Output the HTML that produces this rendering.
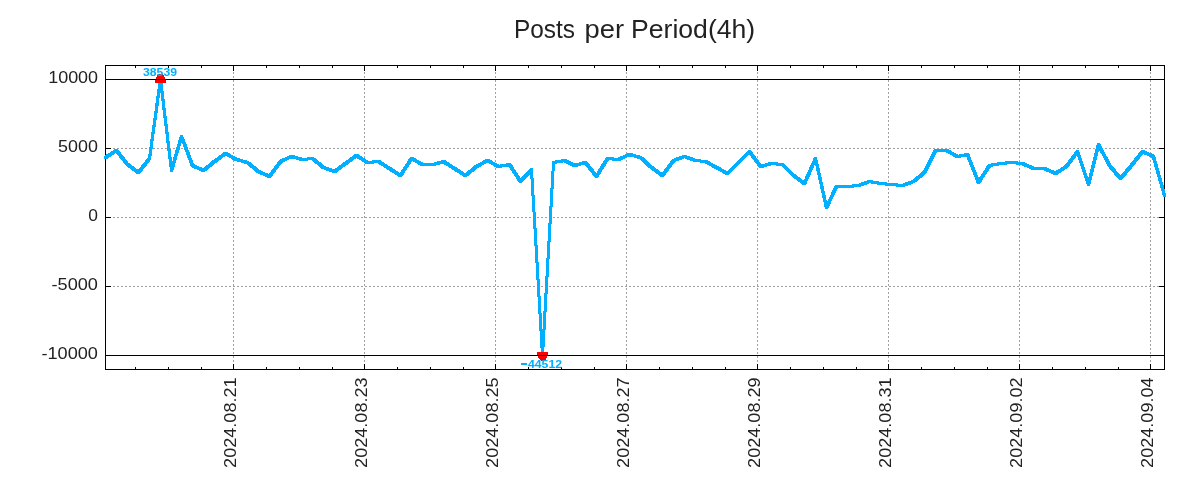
<!DOCTYPE html>
<html><head><meta charset="utf-8"><style>
html,body{margin:0;padding:0;background:#fff;width:1200px;height:500px;overflow:hidden}
svg{display:block;will-change:transform}
.g{stroke:#a0a0a0;stroke-width:1;stroke-dasharray:2 2}
.k{stroke:#000;stroke-width:1}
text{font-family:"Liberation Sans",sans-serif;fill:#222}
.t{font-size:25px}
.yl{font-size:16px}
.xl{font-size:16px}
.lb{font-size:10px;font-weight:bold;fill:#00b0ff}
</style></head><body>
<svg width="1200" height="500" viewBox="0 0 1200 500">
<line x1="105" y1="148.5" x2="1165" y2="148.5" class="g"/>
<line x1="105" y1="217.5" x2="1165" y2="217.5" class="g"/>
<line x1="105" y1="286.5" x2="1165" y2="286.5" class="g"/>
<line x1="233.5" y1="370" x2="233.5" y2="65" class="g"/>
<line x1="364.5" y1="370" x2="364.5" y2="65" class="g"/>
<line x1="495.5" y1="370" x2="495.5" y2="65" class="g"/>
<line x1="626.5" y1="370" x2="626.5" y2="65" class="g"/>
<line x1="757.5" y1="370" x2="757.5" y2="65" class="g"/>
<line x1="888.5" y1="370" x2="888.5" y2="65" class="g"/>
<line x1="1019.5" y1="370" x2="1019.5" y2="65" class="g"/>
<line x1="1150.5" y1="370" x2="1150.5" y2="65" class="g"/>
<line x1="105" y1="79.5" x2="1165" y2="79.5" class="k"/>
<line x1="105" y1="355.5" x2="1165" y2="355.5" class="k"/>
<line x1="105" y1="79.5" x2="111" y2="79.5" class="k"/>
<line x1="1159" y1="79.5" x2="1165" y2="79.5" class="k"/>
<line x1="105" y1="148.5" x2="111" y2="148.5" class="k"/>
<line x1="1159" y1="148.5" x2="1165" y2="148.5" class="k"/>
<line x1="105" y1="217.5" x2="111" y2="217.5" class="k"/>
<line x1="1159" y1="217.5" x2="1165" y2="217.5" class="k"/>
<line x1="105" y1="286.5" x2="111" y2="286.5" class="k"/>
<line x1="1159" y1="286.5" x2="1165" y2="286.5" class="k"/>
<line x1="105" y1="355.5" x2="111" y2="355.5" class="k"/>
<line x1="1159" y1="355.5" x2="1165" y2="355.5" class="k"/>
<line x1="233.5" y1="364" x2="233.5" y2="370" class="k"/>
<line x1="233.5" y1="65" x2="233.5" y2="71" class="k"/>
<line x1="364.5" y1="364" x2="364.5" y2="370" class="k"/>
<line x1="364.5" y1="65" x2="364.5" y2="71" class="k"/>
<line x1="495.5" y1="364" x2="495.5" y2="370" class="k"/>
<line x1="495.5" y1="65" x2="495.5" y2="71" class="k"/>
<line x1="626.5" y1="364" x2="626.5" y2="370" class="k"/>
<line x1="626.5" y1="65" x2="626.5" y2="71" class="k"/>
<line x1="757.5" y1="364" x2="757.5" y2="370" class="k"/>
<line x1="757.5" y1="65" x2="757.5" y2="71" class="k"/>
<line x1="888.5" y1="364" x2="888.5" y2="370" class="k"/>
<line x1="888.5" y1="65" x2="888.5" y2="71" class="k"/>
<line x1="1019.5" y1="364" x2="1019.5" y2="370" class="k"/>
<line x1="1019.5" y1="65" x2="1019.5" y2="71" class="k"/>
<line x1="1150.5" y1="364" x2="1150.5" y2="370" class="k"/>
<line x1="1150.5" y1="65" x2="1150.5" y2="71" class="k"/>
<line x1="135.5" y1="367" x2="135.5" y2="370" class="k"/>
<line x1="135.5" y1="65" x2="135.5" y2="68" class="k"/>
<line x1="168.5" y1="367" x2="168.5" y2="370" class="k"/>
<line x1="168.5" y1="65" x2="168.5" y2="68" class="k"/>
<line x1="201.5" y1="367" x2="201.5" y2="370" class="k"/>
<line x1="201.5" y1="65" x2="201.5" y2="68" class="k"/>
<line x1="266.5" y1="367" x2="266.5" y2="370" class="k"/>
<line x1="266.5" y1="65" x2="266.5" y2="68" class="k"/>
<line x1="299.5" y1="367" x2="299.5" y2="370" class="k"/>
<line x1="299.5" y1="65" x2="299.5" y2="68" class="k"/>
<line x1="332.5" y1="367" x2="332.5" y2="370" class="k"/>
<line x1="332.5" y1="65" x2="332.5" y2="68" class="k"/>
<line x1="397.5" y1="367" x2="397.5" y2="370" class="k"/>
<line x1="397.5" y1="65" x2="397.5" y2="68" class="k"/>
<line x1="430.5" y1="367" x2="430.5" y2="370" class="k"/>
<line x1="430.5" y1="65" x2="430.5" y2="68" class="k"/>
<line x1="463.5" y1="367" x2="463.5" y2="370" class="k"/>
<line x1="463.5" y1="65" x2="463.5" y2="68" class="k"/>
<line x1="528.5" y1="367" x2="528.5" y2="370" class="k"/>
<line x1="528.5" y1="65" x2="528.5" y2="68" class="k"/>
<line x1="561.5" y1="367" x2="561.5" y2="370" class="k"/>
<line x1="561.5" y1="65" x2="561.5" y2="68" class="k"/>
<line x1="594.5" y1="367" x2="594.5" y2="370" class="k"/>
<line x1="594.5" y1="65" x2="594.5" y2="68" class="k"/>
<line x1="659.5" y1="367" x2="659.5" y2="370" class="k"/>
<line x1="659.5" y1="65" x2="659.5" y2="68" class="k"/>
<line x1="692.5" y1="367" x2="692.5" y2="370" class="k"/>
<line x1="692.5" y1="65" x2="692.5" y2="68" class="k"/>
<line x1="725.5" y1="367" x2="725.5" y2="370" class="k"/>
<line x1="725.5" y1="65" x2="725.5" y2="68" class="k"/>
<line x1="790.5" y1="367" x2="790.5" y2="370" class="k"/>
<line x1="790.5" y1="65" x2="790.5" y2="68" class="k"/>
<line x1="823.5" y1="367" x2="823.5" y2="370" class="k"/>
<line x1="823.5" y1="65" x2="823.5" y2="68" class="k"/>
<line x1="856.5" y1="367" x2="856.5" y2="370" class="k"/>
<line x1="856.5" y1="65" x2="856.5" y2="68" class="k"/>
<line x1="921.5" y1="367" x2="921.5" y2="370" class="k"/>
<line x1="921.5" y1="65" x2="921.5" y2="68" class="k"/>
<line x1="954.5" y1="367" x2="954.5" y2="370" class="k"/>
<line x1="954.5" y1="65" x2="954.5" y2="68" class="k"/>
<line x1="987.5" y1="367" x2="987.5" y2="370" class="k"/>
<line x1="987.5" y1="65" x2="987.5" y2="68" class="k"/>
<line x1="1052.5" y1="367" x2="1052.5" y2="370" class="k"/>
<line x1="1052.5" y1="65" x2="1052.5" y2="68" class="k"/>
<line x1="1085.5" y1="367" x2="1085.5" y2="370" class="k"/>
<line x1="1085.5" y1="65" x2="1085.5" y2="68" class="k"/>
<line x1="1118.5" y1="367" x2="1118.5" y2="370" class="k"/>
<line x1="1118.5" y1="65" x2="1118.5" y2="68" class="k"/>
<rect x="105.5" y="65.5" width="1059" height="304" fill="none" stroke="#000" stroke-width="1"/>
<path d="M104.05,156.05 L115.05,149.05 L117.95,149.05 L117.95,151.95 L106.95,158.95 L104.05,158.95Z M115.05,149.05 L117.95,149.05 L128.95,163.05 L128.95,165.95 L126.05,165.95 L115.05,151.95Z M126.05,163.05 L128.95,163.05 L139.95,171.05 L139.95,173.95 L137.05,173.95 L126.05,165.95Z M137.05,171.05 L148.05,157.05 L150.95,157.05 L150.95,159.95 L139.95,173.95 L137.05,173.95Z M148.05,157.05 L159.05,78.05 L161.95,78.05 L161.95,80.95 L150.95,159.95 L148.05,159.95Z M159.05,78.05 L161.95,78.05 L172.95,169.05 L172.95,171.95 L170.05,171.95 L159.05,80.95Z M170.05,169.05 L180.05,135.05 L182.95,135.05 L182.95,137.95 L172.95,171.95 L170.05,171.95Z M180.05,135.05 L182.95,135.05 L193.95,164.05 L193.95,166.95 L191.05,166.95 L180.05,137.95Z M191.05,164.05 L193.95,164.05 L204.95,169.05 L204.95,171.95 L202.05,171.95 L191.05,166.95Z M202.05,169.05 L213.05,160.05 L215.95,160.05 L215.95,162.95 L204.95,171.95 L202.05,171.95Z M213.05,160.05 L224.05,152.05 L226.95,152.05 L226.95,154.95 L215.95,162.95 L213.05,162.95Z M224.05,152.05 L226.95,152.05 L237.95,158.05 L237.95,160.95 L235.05,160.95 L224.05,154.95Z M235.05,158.05 L237.95,158.05 L248.95,161.05 L248.95,163.95 L246.05,163.95 L235.05,160.95Z M246.05,161.05 L248.95,161.05 L259.95,170.05 L259.95,172.95 L257.05,172.95 L246.05,163.95Z M257.05,170.05 L259.95,170.05 L270.95,175.05 L270.95,177.95 L268.05,177.95 L257.05,172.95Z M268.05,175.05 L279.05,160.05 L281.95,160.05 L281.95,162.95 L270.95,177.95 L268.05,177.95Z M279.05,160.05 L290.05,155.05 L292.95,155.05 L292.95,157.95 L281.95,162.95 L279.05,162.95Z M290.05,155.05 L292.95,155.05 L303.95,158.05 L303.95,160.95 L301.05,160.95 L290.05,157.95Z M301.05,158.05 L311.05,157.05 L313.95,157.05 L313.95,159.95 L303.95,160.95 L301.05,160.95Z M311.05,157.05 L313.95,157.05 L324.95,166.05 L324.95,168.95 L322.05,168.95 L311.05,159.95Z M322.05,166.05 L324.95,166.05 L335.95,170.05 L335.95,172.95 L333.05,172.95 L322.05,168.95Z M333.05,170.05 L344.05,162.05 L346.95,162.05 L346.95,164.95 L335.95,172.95 L333.05,172.95Z M344.05,162.05 L355.05,154.05 L357.95,154.05 L357.95,156.95 L346.95,164.95 L344.05,164.95Z M355.05,154.05 L357.95,154.05 L368.95,161.05 L368.95,163.95 L366.05,163.95 L355.05,156.95Z M366.05,161.05 L377.05,160.05 L379.95,160.05 L379.95,162.95 L368.95,163.95 L366.05,163.95Z M377.05,160.05 L379.95,160.05 L390.95,167.05 L390.95,169.95 L388.05,169.95 L377.05,162.95Z M388.05,167.05 L390.95,167.05 L401.95,174.05 L401.95,176.95 L399.05,176.95 L388.05,169.95Z M399.05,174.05 L410.05,157.05 L412.95,157.05 L412.95,159.95 L401.95,176.95 L399.05,176.95Z M410.05,157.05 L412.95,157.05 L423.95,163.05 L423.95,165.95 L421.05,165.95 L410.05,159.95Z M421.05,163.05 L434.95,163.05 L434.95,165.95 L421.05,165.95Z M432.05,163.05 L442.05,160.05 L444.95,160.05 L444.95,162.95 L434.95,165.95 L432.05,165.95Z M442.05,160.05 L444.95,160.05 L455.95,167.05 L455.95,169.95 L453.05,169.95 L442.05,162.95Z M453.05,167.05 L455.95,167.05 L466.95,174.05 L466.95,176.95 L464.05,176.95 L453.05,169.95Z M464.05,174.05 L475.05,165.05 L477.95,165.05 L477.95,167.95 L466.95,176.95 L464.05,176.95Z M475.05,165.05 L486.05,159.05 L488.95,159.05 L488.95,161.95 L477.95,167.95 L475.05,167.95Z M486.05,159.05 L488.95,159.05 L499.95,165.05 L499.95,167.95 L497.05,167.95 L486.05,161.95Z M497.05,165.05 L508.05,163.05 L510.95,163.05 L510.95,165.95 L499.95,167.95 L497.05,167.95Z M508.05,163.05 L510.95,163.05 L521.95,180.05 L521.95,182.95 L519.05,182.95 L508.05,165.95Z M519.05,180.05 L530.05,168.05 L532.95,168.05 L532.95,170.95 L521.95,182.95 L519.05,182.95Z M530.05,168.05 L532.95,168.05 L543.95,354.05 L543.95,356.95 L541.05,356.95 L530.05,170.95Z M541.05,354.05 L552.05,161.05 L554.95,161.05 L554.95,163.95 L543.95,356.95 L541.05,356.95Z M552.05,161.05 L563.05,159.05 L565.95,159.05 L565.95,161.95 L554.95,163.95 L552.05,163.95Z M563.05,159.05 L565.95,159.05 L575.95,164.05 L575.95,166.95 L573.05,166.95 L563.05,161.95Z M573.05,164.05 L584.05,161.05 L586.95,161.05 L586.95,163.95 L575.95,166.95 L573.05,166.95Z M584.05,161.05 L586.95,161.05 L597.95,175.05 L597.95,177.95 L595.05,177.95 L584.05,163.95Z M595.05,175.05 L606.05,157.05 L608.95,157.05 L608.95,159.95 L597.95,177.95 L595.05,177.95Z M606.05,157.05 L608.95,157.05 L619.95,158.05 L619.95,160.95 L617.05,160.95 L606.05,159.95Z M617.05,158.05 L628.05,153.05 L630.95,153.05 L630.95,155.95 L619.95,160.95 L617.05,160.95Z M628.05,153.05 L630.95,153.05 L641.95,156.05 L641.95,158.95 L639.05,158.95 L628.05,155.95Z M639.05,156.05 L641.95,156.05 L652.95,166.05 L652.95,168.95 L650.05,168.95 L639.05,158.95Z M650.05,166.05 L652.95,166.05 L663.95,174.05 L663.95,176.95 L661.05,176.95 L650.05,168.95Z M661.05,174.05 L672.05,159.05 L674.95,159.05 L674.95,161.95 L663.95,176.95 L661.05,176.95Z M672.05,159.05 L683.05,155.05 L685.95,155.05 L685.95,157.95 L674.95,161.95 L672.05,161.95Z M683.05,155.05 L685.95,155.05 L696.95,159.05 L696.95,161.95 L694.05,161.95 L683.05,157.95Z M694.05,159.05 L696.95,159.05 L706.95,160.05 L706.95,162.95 L704.05,162.95 L694.05,161.95Z M704.05,160.05 L706.95,160.05 L717.95,166.05 L717.95,168.95 L715.05,168.95 L704.05,162.95Z M715.05,166.05 L717.95,166.05 L728.95,172.05 L728.95,174.95 L726.05,174.95 L715.05,168.95Z M726.05,172.05 L737.05,161.05 L739.95,161.05 L739.95,163.95 L728.95,174.95 L726.05,174.95Z M737.05,161.05 L748.05,150.05 L750.95,150.05 L750.95,152.95 L739.95,163.95 L737.05,163.95Z M748.05,150.05 L750.95,150.05 L761.95,165.05 L761.95,167.95 L759.05,167.95 L748.05,152.95Z M759.05,165.05 L770.05,162.05 L772.95,162.05 L772.95,164.95 L761.95,167.95 L759.05,167.95Z M770.05,162.05 L772.95,162.05 L783.95,163.05 L783.95,165.95 L781.05,165.95 L770.05,164.95Z M781.05,163.05 L783.95,163.05 L794.95,174.05 L794.95,176.95 L792.05,176.95 L781.05,165.95Z M792.05,174.05 L794.95,174.05 L805.95,182.05 L805.95,184.95 L803.05,184.95 L792.05,176.95Z M803.05,182.05 L814.05,157.05 L816.95,157.05 L816.95,159.95 L805.95,184.95 L803.05,184.95Z M814.05,157.05 L816.95,157.05 L827.95,206.05 L827.95,208.95 L825.05,208.95 L814.05,159.95Z M825.05,206.05 L835.05,185.05 L837.95,185.05 L837.95,187.95 L827.95,208.95 L825.05,208.95Z M835.05,185.05 L848.95,185.05 L848.95,187.95 L835.05,187.95Z M846.05,185.05 L857.05,184.05 L859.95,184.05 L859.95,186.95 L848.95,187.95 L846.05,187.95Z M857.05,184.05 L868.05,180.05 L870.95,180.05 L870.95,182.95 L859.95,186.95 L857.05,186.95Z M868.05,180.05 L870.95,180.05 L881.95,182.05 L881.95,184.95 L879.05,184.95 L868.05,182.95Z M879.05,182.05 L881.95,182.05 L892.95,183.05 L892.95,185.95 L890.05,185.95 L879.05,184.95Z M890.05,183.05 L892.95,183.05 L903.95,184.05 L903.95,186.95 L901.05,186.95 L890.05,185.95Z M901.05,184.05 L912.05,180.05 L914.95,180.05 L914.95,182.95 L903.95,186.95 L901.05,186.95Z M912.05,180.05 L923.05,171.05 L925.95,171.05 L925.95,173.95 L914.95,182.95 L912.05,182.95Z M923.05,171.05 L934.05,149.05 L936.95,149.05 L936.95,151.95 L925.95,173.95 L923.05,173.95Z M934.05,149.05 L947.95,149.05 L947.95,151.95 L934.05,151.95Z M945.05,149.05 L947.95,149.05 L958.95,155.05 L958.95,157.95 L956.05,157.95 L945.05,151.95Z M956.05,155.05 L966.05,153.05 L968.95,153.05 L968.95,155.95 L958.95,157.95 L956.05,157.95Z M966.05,153.05 L968.95,153.05 L979.95,181.05 L979.95,183.95 L977.05,183.95 L966.05,155.95Z M977.05,181.05 L988.05,164.05 L990.95,164.05 L990.95,166.95 L979.95,183.95 L977.05,183.95Z M988.05,164.05 L999.05,162.05 L1001.95,162.05 L1001.95,164.95 L990.95,166.95 L988.05,166.95Z M999.05,162.05 L1010.05,161.05 L1012.95,161.05 L1012.95,163.95 L1001.95,164.95 L999.05,164.95Z M1010.05,161.05 L1012.95,161.05 L1023.95,162.05 L1023.95,164.95 L1021.05,164.95 L1010.05,163.95Z M1021.05,162.05 L1023.95,162.05 L1034.95,167.05 L1034.95,169.95 L1032.05,169.95 L1021.05,164.95Z M1032.05,167.05 L1045.95,167.05 L1045.95,169.95 L1032.05,169.95Z M1043.05,167.05 L1045.95,167.05 L1056.95,172.05 L1056.95,174.95 L1054.05,174.95 L1043.05,169.95Z M1054.05,172.05 L1065.05,165.05 L1067.95,165.05 L1067.95,167.95 L1056.95,174.95 L1054.05,174.95Z M1065.05,165.05 L1076.05,150.05 L1078.95,150.05 L1078.95,152.95 L1067.95,167.95 L1065.05,167.95Z M1076.05,150.05 L1078.95,150.05 L1089.95,183.05 L1089.95,185.95 L1087.05,185.95 L1076.05,152.95Z M1087.05,183.05 L1097.05,143.05 L1099.95,143.05 L1099.95,145.95 L1089.95,185.95 L1087.05,185.95Z M1097.05,143.05 L1099.95,143.05 L1110.95,164.05 L1110.95,166.95 L1108.05,166.95 L1097.05,145.95Z M1108.05,164.05 L1110.95,164.05 L1121.95,177.05 L1121.95,179.95 L1119.05,179.95 L1108.05,166.95Z M1119.05,177.05 L1130.05,164.05 L1132.95,164.05 L1132.95,166.95 L1121.95,179.95 L1119.05,179.95Z M1130.05,164.05 L1141.05,150.05 L1143.95,150.05 L1143.95,152.95 L1132.95,166.95 L1130.05,166.95Z M1141.05,150.05 L1143.95,150.05 L1154.95,155.05 L1154.95,157.95 L1152.05,157.95 L1141.05,152.95Z M1152.05,155.05 L1154.95,155.05 L1165.95,194.05 L1165.95,196.95 L1163.05,196.95 L1152.05,157.95Z" fill="#00b0ff" fill-rule="nonzero" shape-rendering="crispEdges"/>
<polygon points="158,74.4 163,74.4 166,79.5 166,83 155,83 155,79.5" fill="#ff0000" shape-rendering="crispEdges"/>
<line x1="105" y1="79.5" x2="1165" y2="79.5" class="k"/>
<polygon points="537,352 548,352 548,355.5 544.8,361 541,361 537,355.5" fill="#ff0000" shape-rendering="crispEdges"/>
<line x1="105" y1="355.5" x2="1165" y2="355.5" class="k"/>
<text x="143" y="75.5" class="lb" textLength="34" lengthAdjust="spacingAndGlyphs">38539</text>
<rect x="521" y="363" width="6" height="2" fill="#00b0ff"/>
<text x="528" y="367.5" class="lb" textLength="34" lengthAdjust="spacingAndGlyphs">44512</text>
<text x="514" y="38" class="t" textLength="61" lengthAdjust="spacingAndGlyphs">Posts</text>
<text x="584.5" y="38" class="t" textLength="39.5" lengthAdjust="spacingAndGlyphs">per</text>
<text x="631" y="38" class="t" textLength="124.2" lengthAdjust="spacingAndGlyphs">Period(4h)</text>
<text x="48.20" y="83" class="yl" textLength="49.90" lengthAdjust="spacingAndGlyphs">10000</text>
<text x="58.10" y="152" class="yl" textLength="39.80" lengthAdjust="spacingAndGlyphs">5000</text>
<text x="88.20" y="221" class="yl" textLength="9.70" lengthAdjust="spacingAndGlyphs">0</text>
<text x="51.60" y="290" class="yl" textLength="46.30" lengthAdjust="spacingAndGlyphs">-5000</text>
<text x="41.50" y="359" class="yl" textLength="56.40" lengthAdjust="spacingAndGlyphs">-10000</text>
<text transform="translate(236,377.4) rotate(-90)" class="xl" text-anchor="end" textLength="90.5" lengthAdjust="spacingAndGlyphs">2024.08.21</text>
<text transform="translate(367,377.4) rotate(-90)" class="xl" text-anchor="end" textLength="90.5" lengthAdjust="spacingAndGlyphs">2024.08.23</text>
<text transform="translate(498,377.4) rotate(-90)" class="xl" text-anchor="end" textLength="90.5" lengthAdjust="spacingAndGlyphs">2024.08.25</text>
<text transform="translate(629,377.4) rotate(-90)" class="xl" text-anchor="end" textLength="90.5" lengthAdjust="spacingAndGlyphs">2024.08.27</text>
<text transform="translate(760,377.4) rotate(-90)" class="xl" text-anchor="end" textLength="90.5" lengthAdjust="spacingAndGlyphs">2024.08.29</text>
<text transform="translate(891,377.4) rotate(-90)" class="xl" text-anchor="end" textLength="90.5" lengthAdjust="spacingAndGlyphs">2024.08.31</text>
<text transform="translate(1022,377.4) rotate(-90)" class="xl" text-anchor="end" textLength="90.5" lengthAdjust="spacingAndGlyphs">2024.09.02</text>
<text transform="translate(1153,377.4) rotate(-90)" class="xl" text-anchor="end" textLength="90.5" lengthAdjust="spacingAndGlyphs">2024.09.04</text>
</svg>
</body></html>
